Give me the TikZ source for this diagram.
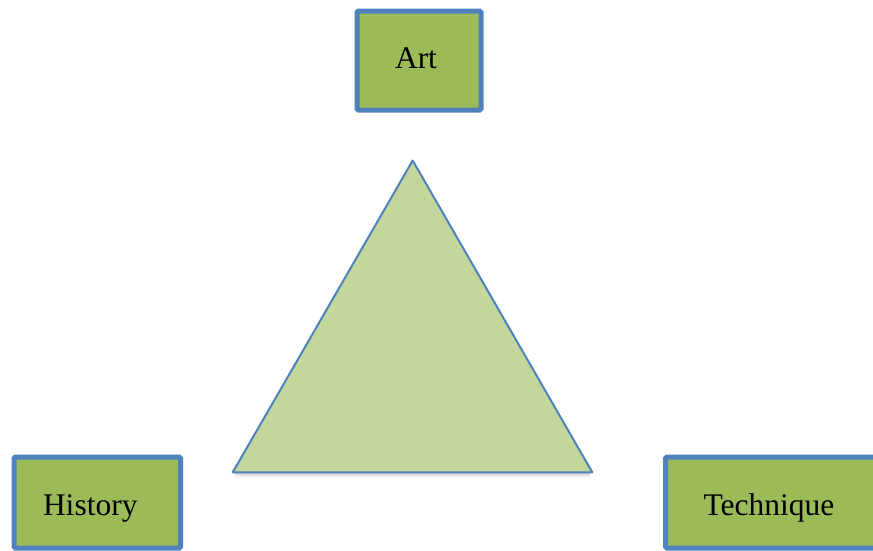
\documentclass[tikz,border=0pt]{standalone}
\usepackage{fontspec}
\setmainfont{Liberation Serif}
\definecolor{boxfill}{HTML}{9BBB59}
\definecolor{boxline}{HTML}{4F81BD}
\definecolor{trifill}{HTML}{C3D69B}
\begin{document}
\begin{tikzpicture}[x=1pt,y=-1pt,
  cbox/.style={draw=boxline, fill=boxfill, line width=5pt, rounded corners=1.5pt,
    font=\fontsize{31.5}{36}\selectfont, inner sep=0pt, anchor=center}]
\useasboundingbox (0,0) rectangle (873,550);
% triangle shadow
\foreach \o/\op in {1/0.25,2/0.18,3/0.12,4/0.07,5/0.04}{
  \draw[gray, line width=1.2pt, opacity=\op] (235,472+\o) -- (590,472+\o);
}
\coordinate (apex) at (412.7,160.5);
\coordinate (bl) at (232.7,472.3);
\coordinate (br) at (592.3,472.3);
\draw[boxline, fill=trifill, line width=2pt, line join=round] (apex) -- (bl) -- (br) -- cycle;
% boxes
\node[cbox, minimum width=124pt, minimum height=99pt, text height=21pt, text depth=6pt]
  (art) at (419,60.5) {\kern-6pt Art};
\node[cbox, minimum width=166.5pt, minimum height=91pt, text height=25pt, text depth=0pt]
  (history) at (97.25,502.5) {History\kern14pt\relax};
\node[cbox, minimum width=212.5pt, minimum height=91pt, text height=25pt, text depth=0pt]
  (technique) at (771.75,502.5) {\kern-2pt Technique\kern3.5pt\relax};
\end{tikzpicture}
\end{document}
